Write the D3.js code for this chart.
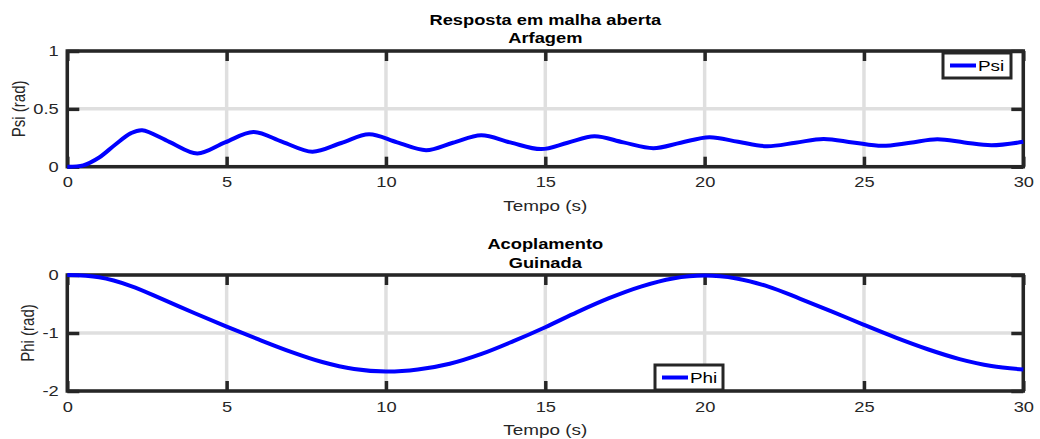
<!DOCTYPE html>
<html>
<head>
<meta charset="utf-8">
<script src="https://cdn.jsdelivr.net/npm/d3@7"></script>
<style>
  html, body { margin: 0; padding: 0; background: #fff; }
  svg { display: block; font-family: "Liberation Sans", Arial, Helvetica, sans-serif; }
</style>
</head>
<body>
<svg id="chart" width="1040" height="439"></svg>
<script>
"use strict";

// valores
var xTicks = [0, 5, 10, 15, 20, 25, 30];
var psiTicks = [0, 0.5, 1];
var phiTicks = [-2, -1, 0];

// Psi (rad) – resposta em malha aberta, arfagem
var psiT = [0, 0.5, 1.0, 1.5, 2.0, 2.35, 3.2, 4.08, 4.95, 5.84, 6.75, 7.69, 8.6, 9.47,
  10.35, 11.26, 12.1, 12.99, 13.9, 14.87, 15.7, 16.54, 17.45, 18.39, 19.25, 20.15,
  21.05, 21.95, 22.85, 23.73, 24.65, 25.57, 26.45, 27.3, 28.15, 29.0, 30];
var psiY = [0, 0.012, 0.08, 0.19, 0.29, 0.315, 0.215, 0.115, 0.21, 0.30, 0.215, 0.13, 0.205, 0.28,
  0.21, 0.143, 0.207, 0.272, 0.21, 0.152, 0.207, 0.263, 0.21, 0.16, 0.207, 0.255,
  0.215, 0.177, 0.207, 0.24, 0.21, 0.18, 0.207, 0.237, 0.21, 0.186, 0.215];

// Phi (rad) – acoplamento, guinada
var phiT = [0, 1, 2, 3, 4, 5, 6, 7, 8, 9, 10, 11, 12, 13, 14, 15, 16, 17, 18, 19, 20,
  21, 22, 23, 24, 25, 26, 27, 28, 29, 30];
var phiY = [0, -0.04, -0.19, -0.42, -0.66, -0.89, -1.11, -1.32, -1.50, -1.62, -1.665,
  -1.63, -1.53, -1.36, -1.14, -0.90, -0.64, -0.40, -0.20, -0.06, -0.01,
  -0.06, -0.20, -0.41, -0.63, -0.86, -1.08, -1.28, -1.45, -1.57, -1.63];

var svg = d3.select("#chart");
var axColor = "#262626";
var sx = 1.22; // o texto do original aparece esticado na horizontal

var left = 67.3, right = 1023.3;

var panels = [
  {
    top: 51, bottom: 166.7,
    titles: ["Resposta em malha aberta", "Arfagem"], titleY: [25, 43],
    yDomain: [0, 1], yTicks: psiTicks, yLabel: "Psi (rad)", yLabelX: 25,
    t: psiT, v: psiY, name: "Psi",
    legend: { x: 943, y: 53, w: 68, h: 25 }
  },
  {
    top: 275, bottom: 391,
    titles: ["Acoplamento", "Guinada"], titleY: [249, 268],
    yDomain: [-2, 0], yTicks: phiTicks, yLabel: "Phi (rad)", yLabelX: 34,
    t: phiT, v: phiY, name: "Phi",
    legend: { x: 655, y: 365, w: 68, h: 25 }
  }
];

function txt(parent, x, y, s) {
  return parent.append("text")
    .attr("transform", "translate(" + x + "," + y + ") scale(" + sx + ",1)")
    .text(s);
}

panels.forEach(function(p) {
  var w = right - left, h = p.bottom - p.top;
  var x = d3.scaleLinear().domain([0, 30]).range([0, w]);
  var y = d3.scaleLinear().domain(p.yDomain).range([h, 0]);

  var g = svg.append("g").attr("transform", "translate(" + left + "," + p.top + ")");

  // grade
  g.append("g").selectAll("line").data(xTicks).join("line")
    .attr("x1", d => x(d)).attr("x2", d => x(d))
    .attr("y1", 0).attr("y2", h)
    .attr("stroke", "#dfdfdf").attr("stroke-width", 3.5);
  g.append("g").selectAll("line").data(p.yTicks).join("line")
    .attr("x1", 0).attr("x2", w)
    .attr("y1", d => y(d)).attr("y2", d => y(d))
    .attr("stroke", "#dfdfdf").attr("stroke-width", 3.5);

  // eixos (ticks para dentro)
  function styleAxis(sel) {
    sel.select(".domain").remove();
    sel.selectAll(".tick line").attr("stroke", axColor).attr("stroke-width", 3.5);
    sel.selectAll(".tick text").attr("fill", axColor).style("font-size", "15px")
      .attr("transform", "scale(" + sx + ",1)");
  }
  g.append("g").attr("transform", "translate(0," + h + ")")
    .call(d3.axisBottom(x).tickValues(xTicks).tickSize(-10).tickPadding(10).tickFormat(d => String(d)))
    .call(styleAxis);
  g.append("g")
    .call(d3.axisTop(x).tickValues(xTicks).tickSize(-10).tickFormat(""))
    .call(styleAxis);
  g.append("g")
    .call(d3.axisLeft(y).tickValues(p.yTicks).tickSize(-12).tickPadding(7).tickFormat(d => String(d)))
    .call(styleAxis);
  g.append("g").attr("transform", "translate(" + w + ",0)")
    .call(d3.axisRight(y).tickValues(p.yTicks).tickSize(-12).tickFormat(""))
    .call(styleAxis);

  g.append("rect")
    .attr("width", w).attr("height", h)
    .attr("fill", "none").attr("stroke", axColor).attr("stroke-width", 3.5);

  // curva
  var pts = p.t.map((t, k) => [t, p.v[k]]);
  g.append("path").datum(pts)
    .attr("fill", "none").attr("stroke", "#0000ff").attr("stroke-width", 4)
    .attr("stroke-linejoin", "round")
    .attr("d", d3.line().x(d => x(d[0])).y(d => y(d[1])).curve(d3.curveCatmullRom.alpha(0.5)));

  // rótulos
  txt(g, w / 2, h + 44, "Tempo (s)")
    .attr("text-anchor", "middle").attr("fill", axColor).style("font-size", "15.5px");

  svg.append("text")
    .attr("transform", "translate(" + p.yLabelX + "," + (p.top + h / 2) + ") rotate(-90) scale(1," + sx + ")")
    .attr("text-anchor", "middle").attr("fill", axColor).style("font-size", "15px")
    .text(p.yLabel);

  p.titles.forEach(function(s, k) {
    txt(svg, left + w / 2, p.titleY[k], s)
      .attr("text-anchor", "middle").attr("fill", "#000")
      .style("font-size", "15px").style("font-weight", "bold");
  });

  // legenda
  var L = p.legend;
  var lg = svg.append("g").attr("transform", "translate(" + L.x + "," + L.y + ")");
  lg.append("rect").attr("width", L.w).attr("height", L.h)
    .attr("fill", "#fff").attr("stroke", axColor).attr("stroke-width", 3);
  lg.append("line").attr("x1", 7).attr("x2", 33).attr("y1", L.h / 2).attr("y2", L.h / 2)
    .attr("stroke", "#0000ff").attr("stroke-width", 4);
  txt(lg, 35, L.h / 2 + 5.5, p.name)
    .attr("fill", "#000").style("font-size", "15.5px");
});
</script>
</body>
</html>
